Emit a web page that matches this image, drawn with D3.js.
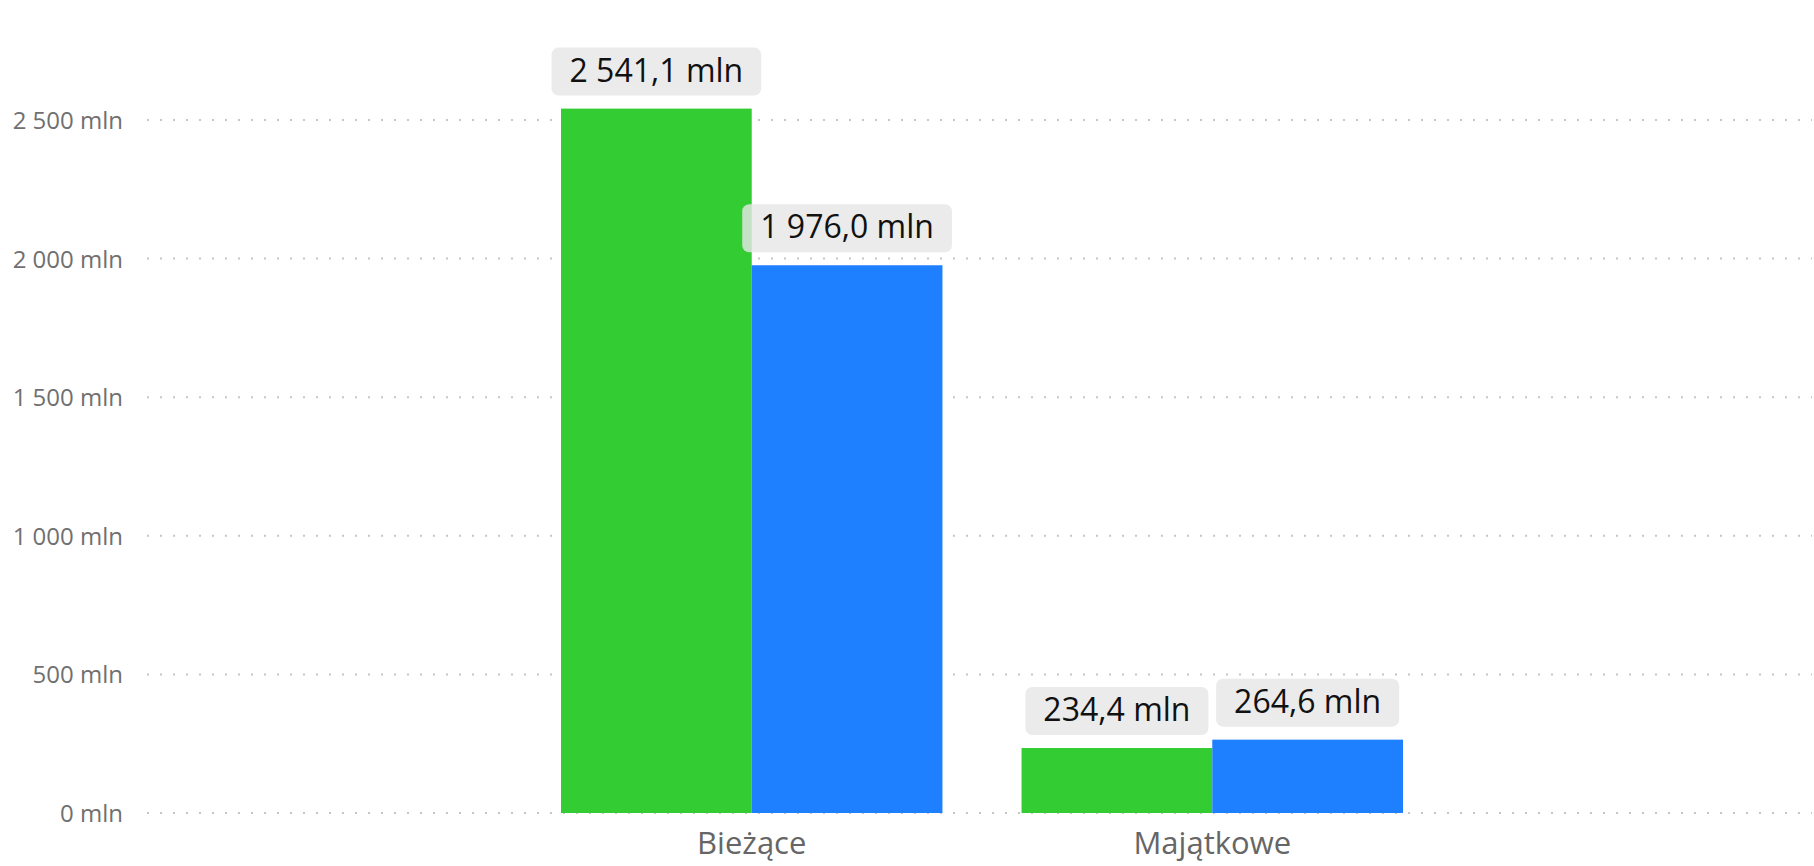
<!DOCTYPE html>
<html><head><meta charset="utf-8">
<script src="https://cdn.jsdelivr.net/npm/d3@7"></script>
<style>body{margin:0;background:#fff}svg{display:block}</style>
</head><body>
<svg id="c" width="1814" height="866"></svg>
<script>
const categories = ["Bieżące", "Majątkowe"];
const seriesNames = ["A", "B"];
const seriesA = [2541.1, 234.4];
const seriesB = [1976.0, 264.6];
const tickValues = [0, 500, 1000, 1500, 2000, 2500];
const valueLabelsA = ["2 541,1 mln", "234,4 mln"];
const valueLabelsB = ["1 976,0 mln", "264,6 mln"];
const colors = ["#33cc33", "#1e7fff"];

const font = "'Segoe UI', 'Open Sans', 'Noto Sans', sans-serif";
const svg = d3.select("#c");
const y = d3.scaleLinear().domain([0, 2500]).range([813, 120]);
const x = d3.scaleBand().domain(categories).range([561, 1403]).paddingInner(79/460).paddingOuter(0);
const xs = d3.scaleBand().domain(seriesNames).range([0, x.bandwidth()]);

const fmt = v => d3.format(",")(v).replace(/,/g, " ") + " mln";

// gridlines
svg.append("g").selectAll("line").data(tickValues).join("line")
  .attr("x1", 147).attr("x2", 1812)
  .attr("y1", d => y(d)).attr("y2", d => y(d))
  .attr("stroke", "#c6c6c6").attr("stroke-width", 2)
  .attr("stroke-dasharray", "2,11");

// y axis labels
const yAxis = d3.axisLeft(y).tickValues(tickValues).tickFormat(fmt).tickSize(0).tickPadding(0);
const ga = svg.append("g").attr("transform", "translate(123,0)").call(yAxis);
ga.select(".domain").remove();
ga.selectAll("text").attr("font-family", font).attr("font-size", 24).attr("fill", "#707070").attr("dy", "0.35em");

// x axis labels
const xAxis = d3.axisBottom(x).tickSize(0).tickPadding(0);
const gx = svg.append("g").attr("transform", "translate(0,825)").call(xAxis);
gx.select(".domain").remove();
gx.selectAll("text").attr("font-family", font).attr("font-size", 31).attr("fill", "#666").attr("dy", "0.95em");

const rows = [];
categories.forEach((c, i) => {
  rows.push({cat: c, s: "A", v: seriesA[i], label: valueLabelsA[i], color: colors[0]});
  rows.push({cat: c, s: "B", v: seriesB[i], label: valueLabelsB[i], color: colors[1]});
});

svg.append("g").selectAll("rect").data(rows).join("rect")
  .attr("x", d => x(d.cat) + xs(d.s))
  .attr("width", xs.bandwidth())
  .attr("y", d => y(d.v))
  .attr("height", d => y(0) - y(d.v))
  .attr("fill", d => d.color);

const lg = svg.append("g").selectAll("g").data(rows).join("g")
  .attr("transform", d => `translate(${x(d.cat) + xs(d.s) + xs.bandwidth()/2},${y(d.v) - 13})`);
lg.each(function(d) {
  const g = d3.select(this);
  const t = g.append("text").text(d.label)
    .attr("font-family", font).attr("font-size", 32).attr("fill", "#111")
    .attr("text-anchor", "middle").attr("y", -14);
  const w = t.node().getComputedTextLength();
  g.insert("rect", "text")
    .attr("x", -w/2 - 18).attr("width", w + 36)
    .attr("y", -48).attr("height", 48)
    .attr("rx", 7).attr("fill", "#e6e6e6").attr("fill-opacity", 0.82);
});
</script>
</body></html>
